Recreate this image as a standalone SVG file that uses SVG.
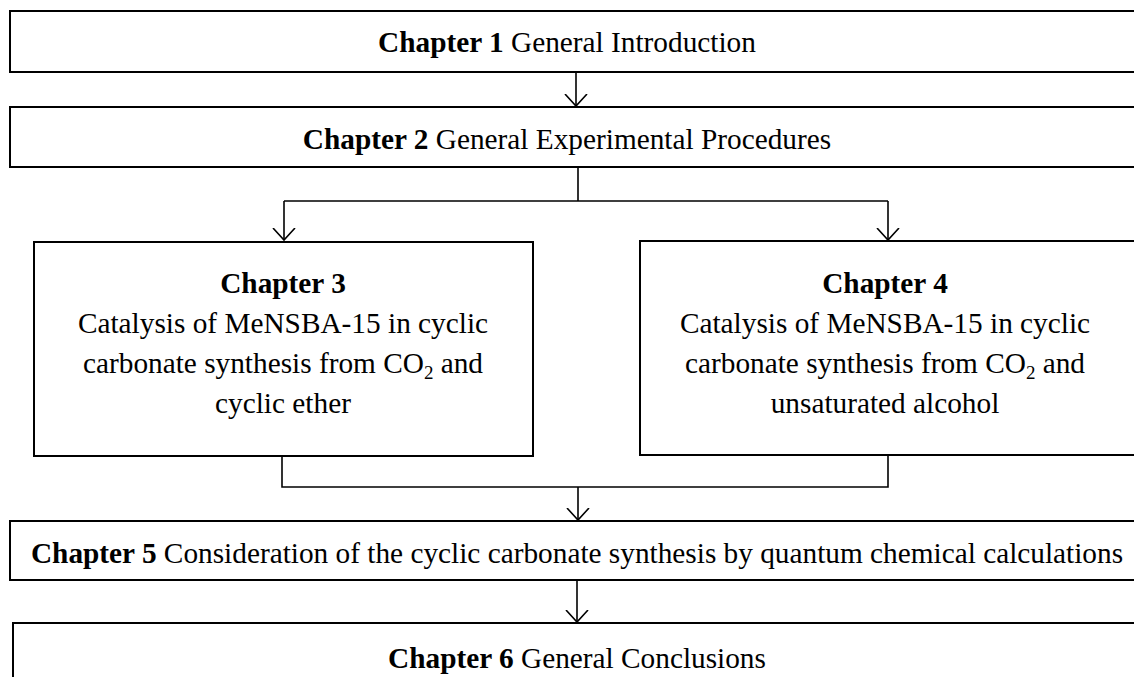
<svg xmlns="http://www.w3.org/2000/svg" width="1134" height="677" viewBox="0 0 1134 677">
<style>
.box{fill:#fff;stroke:#000;stroke-width:2}
.t{font-family:"Liberation Serif","Times New Roman",serif;font-size:29.3px;fill:#000;text-anchor:middle}
.b{font-weight:bold}
.c{fill:none;stroke:#000;stroke-width:1.6}
.sub{font-size:19px}
</style>
<defs>
<marker id="arr" markerWidth="24" markerHeight="24" refX="12" refY="12" orient="auto" markerUnits="userSpaceOnUse">
<path d="M0,1 L12,12 L0,23" fill="none" stroke="#000" stroke-width="1.6"/>
</marker>
</defs>
<g id="connectors">
<path class="c" d="M576,72 V106" marker-end="url(#arr)"/>
<path class="c" d="M578,167 V201 M284,201 H888"/>
<path class="c" d="M284,201 V240" marker-end="url(#arr)"/>
<path class="c" d="M888,201 V240" marker-end="url(#arr)"/>
<path class="c" d="M282,456 V487 H888 V455"/>
<path class="c" d="M578,487 V520" marker-end="url(#arr)"/>
<path class="c" d="M577,580 V622" marker-end="url(#arr)"/>
</g>
<g id="ch1">
<rect class="box" x="10" y="11" width="1140" height="61"/>
<text class="t" x="567" y="52"><tspan class="b">Chapter 1</tspan> General Introduction</text>
</g>
<g id="ch2">
<rect class="box" x="10" y="107" width="1140" height="60"/>
<text class="t" x="567" y="149"><tspan class="b">Chapter 2</tspan> General Experimental Procedures</text>
</g>
<g id="ch3">
<rect class="box" x="34" y="242" width="499" height="214"/>
<text class="t b" x="283" y="293">Chapter 3</text>
<text class="t" x="283" y="333">Catalysis of MeNSBA-15 in cyclic</text>
<text class="t" x="283" y="373">carbonate synthesis from CO<tspan class="sub" dy="6">2</tspan><tspan dy="-6"> and</tspan></text>
<text class="t" x="283" y="413">cyclic ether</text>
</g>
<g id="ch4">
<rect class="box" x="640" y="241" width="520" height="214"/>
<text class="t b" x="885" y="293">Chapter 4</text>
<text class="t" x="885" y="333">Catalysis of MeNSBA-15 in cyclic</text>
<text class="t" x="885" y="373">carbonate synthesis from CO<tspan class="sub" dy="6">2</tspan><tspan dy="-6"> and</tspan></text>
<text class="t" x="885" y="413">unsaturated alcohol</text>
</g>
<g id="ch5">
<rect class="box" x="10" y="521" width="1140" height="59"/>
<text class="t" x="577" y="563"><tspan class="b">Chapter 5</tspan> Consideration of the cyclic carbonate synthesis by quantum chemical calculations</text>
</g>
<g id="ch6">
<rect class="box" x="13" y="623" width="1140" height="80"/>
<text class="t" x="577" y="668"><tspan class="b">Chapter 6</tspan> General Conclusions</text>
</g>
</svg>
